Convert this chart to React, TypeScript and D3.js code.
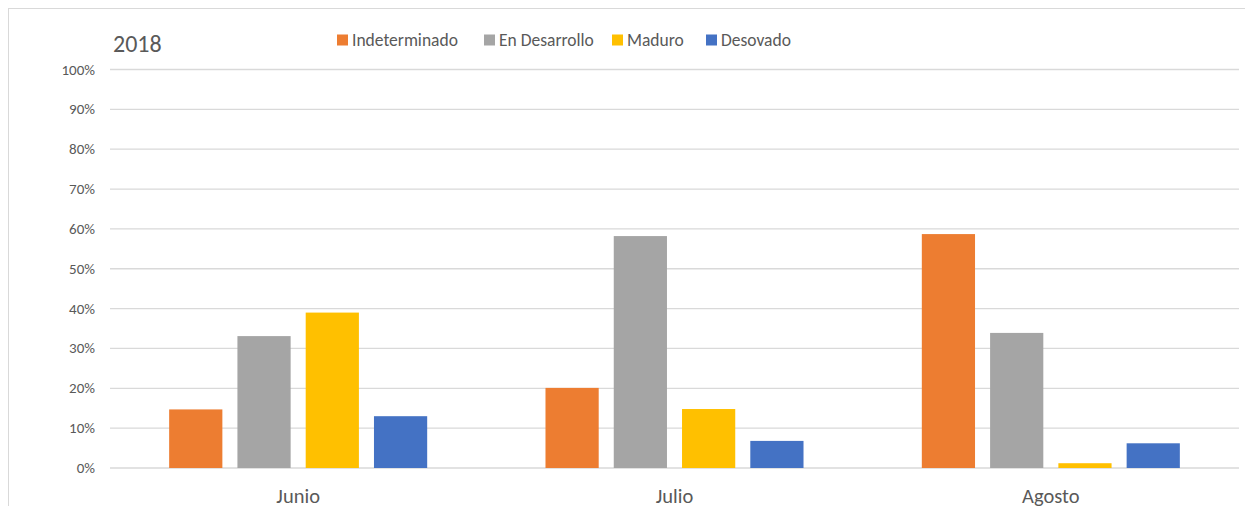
import React from "react";
import * as d3 from "d3";

const categories = ["Junio", "Julio", "Agosto"];
const seriesNames = ["Indeterminado", "En Desarrollo", "Maduro", "Desovado"];
const seriesColors = ["#ED7D31", "#A5A5A5", "#FFC000", "#4472C4"];
const indeterminado = [0.147, 0.201, 0.587];
const enDesarrollo = [0.331, 0.582, 0.339];
const maduro = [0.39, 0.148, 0.012];
const desovado = [0.13, 0.068, 0.062];
const seriesValues = [indeterminado, enDesarrollo, maduro, desovado];
const yTicks = [0, 0.1, 0.2, 0.3, 0.4, 0.5, 0.6, 0.7, 0.8, 0.9, 1.0];
const title = "2018";

const W = 1237;
const H = 506;
const FONT = "Carlito, Calibri, Lato, sans-serif";

export default function App() {
  const x0 = d3.scaleBand().domain(categories).range([102, 1231]).paddingInner(0).paddingOuter(0);
  const y = d3.scaleLinear().domain([0, 1]).range([460, 61.5]);
  const innerW = x0.bandwidth() * (258 / 376.3);
  const x1 = d3
    .scaleBand()
    .domain(seriesNames)
    .range([0, innerW])
    .paddingInner(15 / 68)
    .paddingOuter(0);
  const fmt = d3.format(".0%");
  const legendX = [329, 476, 604, 698];

  return (
    <svg width={W} height={H} style={{ display: "block", marginBottom: -8 }} fontFamily={FONT}>
      <rect x={0.5} y={0.5} width={1300} height={600} fill="#fff" stroke="#D9D9D9" />
      <text x={105} y={44} fontSize={24} fill="#595959">{title}</text>
      {seriesNames.map((s, i) => (
        <g key={s} transform={`translate(${legendX[i]},0)`}>
          <rect x={0} y={26.5} width={11} height={11} fill={seriesColors[i]} />
          <text x={15} y={38} fontSize={17.5} fill="#595959">{s}</text>
        </g>
      ))}
      {yTicks.map((t) => (
        <g key={t}>
          <line x1={102} x2={1231} y1={y(t)} y2={y(t)} stroke="#D9D9D9" strokeWidth={1.3} />
          <text x={87} y={y(t) + 5} fontSize={15} textAnchor="end" fill="#595959">{fmt(t)}</text>
        </g>
      ))}
      {categories.map((c, ci) => {
        const gx = (x0(c) as number) + (x0.bandwidth() - innerW) / 2;
        return (
          <g key={c} transform={`translate(${gx},0)`}>
            {seriesNames.map((s, si) => (
              <rect
                key={s}
                x={x1(s) as number}
                y={y(seriesValues[si][ci])}
                width={x1.bandwidth()}
                height={y(0) - y(seriesValues[si][ci])}
                fill={seriesColors[si]}
              />
            ))}
          </g>
        );
      })}
      {categories.map((c) => (
        <text
          key={c}
          x={(x0(c) as number) + x0.bandwidth() / 2}
          y={495}
          fontSize={20.5}
          textAnchor="middle"
          fill="#595959"
        >
          {c}
        </text>
      ))}
    </svg>
  );
}
